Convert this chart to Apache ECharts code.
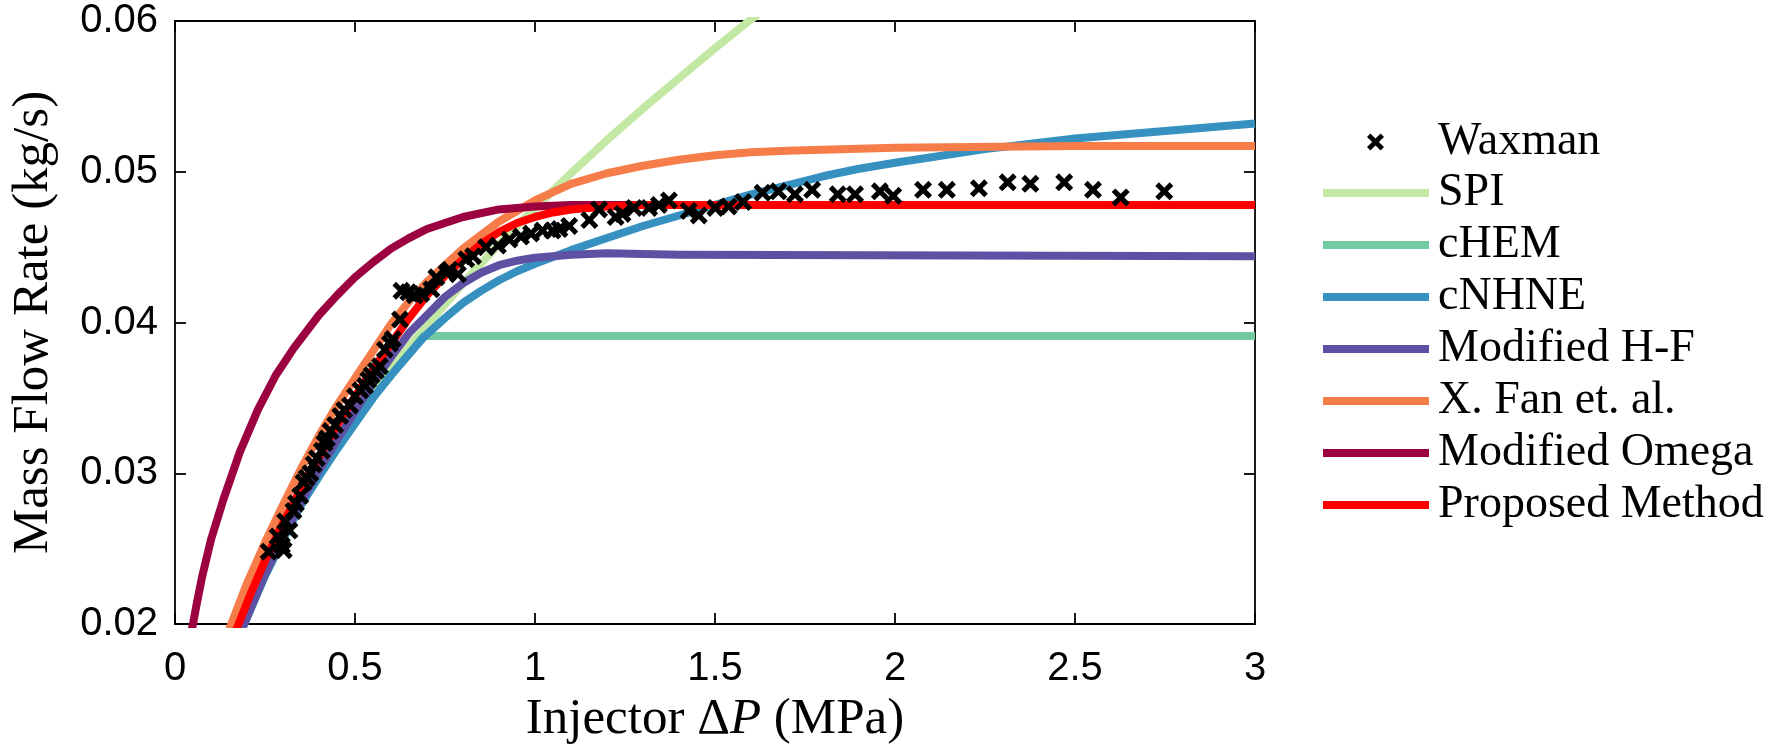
<!DOCTYPE html>
<html>
<head>
<meta charset="utf-8">
<script src="https://cdn.jsdelivr.net/npm/echarts@6/dist/echarts.min.js"></script>
<style>
  html, body { margin: 0; padding: 0; background: #ffffff; }
  #chart { width: 1787px; height: 750px; }
</style>
</head>
<body>
<div id="chart"></div>
<script>
// Axis ticks
const xTicks = [0, 0.5, 1, 1.5, 2, 2.5, 3];
const yTicks = [0.02, 0.03, 0.04, 0.05, 0.06];

// Measured data: [injector dP (MPa), mass flow rate (kg/s)]
const waxman = [
  [0.260, 0.0248], [0.285, 0.0258], [0.297, 0.0252], [0.302, 0.0249], [0.306, 0.0268],
  [0.318, 0.0262], [0.329, 0.0275], [0.336, 0.0280], [0.348, 0.0285], [0.357, 0.0294],
  [0.366, 0.0297], [0.376, 0.0300], [0.385, 0.0306], [0.394, 0.0310], [0.408, 0.0315],
  [0.415, 0.0320], [0.422, 0.0323], [0.432, 0.0328], [0.445, 0.0332], [0.459, 0.0338],
  [0.470, 0.0342], [0.486, 0.0345], [0.500, 0.0351], [0.515, 0.0355], [0.528, 0.0358],
  [0.537, 0.0362], [0.546, 0.0365], [0.558, 0.0368], [0.569, 0.0371], [0.583, 0.0382],
  [0.597, 0.0386], [0.605, 0.0389], [0.625, 0.0402], [0.629, 0.0421], [0.648, 0.0420],
  [0.666, 0.0418], [0.684, 0.0419], [0.712, 0.0422], [0.726, 0.0430], [0.754, 0.0433],
  [0.763, 0.0435], [0.786, 0.0432], [0.809, 0.0442], [0.828, 0.0444], [0.864, 0.0450],
  [0.897, 0.0451], [0.929, 0.0455], [0.961, 0.0457], [0.989, 0.0459], [1.021, 0.0461],
  [1.049, 0.0461], [1.068, 0.0462], [1.095, 0.0464], [1.151, 0.0468], [1.178, 0.0475],
  [1.224, 0.0470], [1.243, 0.0472], [1.275, 0.0476], [1.317, 0.0476], [1.344, 0.0478],
  [1.372, 0.0481], [1.427, 0.0474], [1.455, 0.0471], [1.501, 0.0476], [1.538, 0.0477],
  [1.578, 0.0480], [1.632, 0.0486], [1.676, 0.0487], [1.722, 0.0485], [1.770, 0.0488],
  [1.841, 0.0485], [1.889, 0.0485], [1.958, 0.0487], [1.995, 0.0484], [2.078, 0.0488],
  [2.144, 0.0488], [2.233, 0.0489], [2.313, 0.0493], [2.376, 0.0492], [2.470, 0.0493],
  [2.550, 0.0488], [2.627, 0.0483], [2.748, 0.0487]
];

// Model predictions
const spi = [
  [0.17, 0.0196], [0.20, 0.0213], [0.25, 0.0238], [0.30, 0.0261], [0.35, 0.0282],
  [0.40, 0.0302], [0.45, 0.0320], [0.50, 0.0337], [0.55, 0.0353], [0.60, 0.0369],
  [0.65, 0.0384], [0.70, 0.0398], [0.80, 0.0426], [0.90, 0.0452], [1.00, 0.0476],
  [1.10, 0.0499], [1.20, 0.0521], [1.30, 0.0542], [1.40, 0.0562], [1.50, 0.0582],
  [1.60, 0.0601], [1.65, 0.0610]
];
const chem = [
  [0.185, 0.0196], [0.25, 0.0232], [0.30, 0.0256], [0.35, 0.0279], [0.40, 0.0298],
  [0.45, 0.0316], [0.50, 0.0333], [0.55, 0.0350], [0.60, 0.0365], [0.65, 0.0379],
  [0.69, 0.0391], [3.00, 0.0391]
];
const cnhne = [
  [0.185, 0.0196], [0.25, 0.0232], [0.30, 0.0256], [0.35, 0.0279], [0.40, 0.0298],
  [0.45, 0.0316], [0.50, 0.0333], [0.55, 0.0350], [0.60, 0.0365], [0.65, 0.0379],
  [0.69, 0.0390], [0.75, 0.0403], [0.80, 0.0413], [0.85, 0.0421], [0.90, 0.0428],
  [0.95, 0.0434], [1.00, 0.0439], [1.10, 0.0448], [1.20, 0.0456], [1.30, 0.0464],
  [1.40, 0.0471], [1.50, 0.0478], [1.60, 0.0485], [1.70, 0.0491], [1.80, 0.0497],
  [1.90, 0.0502], [2.00, 0.0506], [2.25, 0.0515], [2.50, 0.0522], [2.75, 0.0527],
  [3.00, 0.0532]
];
const modHF = [
  [0.185, 0.0196], [0.25, 0.0233], [0.30, 0.0258], [0.35, 0.0281], [0.40, 0.0302],
  [0.45, 0.0322], [0.50, 0.0341], [0.55, 0.0360], [0.60, 0.0377], [0.65, 0.0393],
  [0.70, 0.0405], [0.75, 0.0417], [0.80, 0.0426], [0.85, 0.0433], [0.90, 0.0438],
  [0.95, 0.0441], [1.00, 0.0443], [1.10, 0.0445], [1.20, 0.0446], [1.40, 0.0445],
  [3.00, 0.0444]
];
const xFan = [
  [0.15, 0.0196], [0.20, 0.0227], [0.25, 0.0254], [0.30, 0.0279], [0.35, 0.0303],
  [0.40, 0.0325], [0.45, 0.0345], [0.50, 0.0363], [0.55, 0.0381], [0.60, 0.0399],
  [0.65, 0.0414], [0.70, 0.0427], [0.75, 0.0438], [0.80, 0.0449], [0.85, 0.0458],
  [0.90, 0.0467], [0.95, 0.0474], [1.00, 0.0481], [1.10, 0.0492], [1.20, 0.0499],
  [1.30, 0.0504], [1.40, 0.0508], [1.50, 0.0511], [1.60, 0.0513], [1.70, 0.0514],
  [1.85, 0.0515], [2.00, 0.0516], [2.50, 0.0517], [3.00, 0.0517]
];
const modOmega = [
  [0.045, 0.0195], [0.05, 0.0200], [0.06, 0.0213], [0.075, 0.0231], [0.10, 0.0256],
  [0.135, 0.0283], [0.18, 0.0314], [0.23, 0.0342], [0.28, 0.0365], [0.33, 0.0383],
  [0.40, 0.0405], [0.45, 0.0418], [0.50, 0.0430], [0.55, 0.0440], [0.60, 0.0449],
  [0.65, 0.0456], [0.70, 0.0462], [0.75, 0.0466], [0.80, 0.0470], [0.90, 0.0475],
  [1.00, 0.0477], [1.10, 0.0478], [3.00, 0.0478]
];
const proposed = [
  [0.17, 0.0196], [0.21, 0.0220], [0.25, 0.0242], [0.30, 0.0267], [0.35, 0.0290],
  [0.40, 0.0311], [0.45, 0.0332], [0.50, 0.0351], [0.55, 0.0369], [0.60, 0.0386],
  [0.65, 0.0403], [0.70, 0.0418], [0.75, 0.0431], [0.80, 0.0442], [0.85, 0.0452],
  [0.90, 0.0460], [0.95, 0.0466], [1.00, 0.0470], [1.05, 0.0473], [1.10, 0.0475],
  [1.20, 0.0477], [1.30, 0.0478], [3.00, 0.0478]
];

const lineNames = ['SPI', 'cHEM', 'cNHNE', 'Modified H-F', 'X. Fan et. al.', 'Modified Omega', 'Proposed Method'];
const lineData = [spi, chem, cnhne, modHF, xFan, modOmega, proposed];
const lineColors = ['#c3e8a3', '#72caa3', '#3690c0', '#5e50a2', '#f67d4a', '#9c0140', '#ff0000'];

// Bold "x" marker
const CROSS = 'path://M0,2 L2,0 L5,3 L8,0 L10,2 L7,5 L10,8 L8,10 L5,7 L2,10 L0,8 L3,5 Z';
const SERIF = '"Liberation Serif", "Times New Roman", serif';
const SANS = '"Liberation Sans", Arial, sans-serif';

const frameLine = { show: true, onZero: false, lineStyle: { color: '#000', width: 1.8 } };
const frameTick = { show: true, inside: true, length: 11, lineStyle: { color: '#000', width: 1.8 } };

const chart = echarts.init(document.getElementById('chart'), null, { renderer: 'canvas' });

const series = lineNames.map((name, i) => ({
  name: name,
  type: 'line',
  data: lineData[i],
  showSymbol: false,
  symbol: 'none',
  smooth: false,
  clip: true,
  color: lineColors[i],
  itemStyle: { color: lineColors[i] },
  lineStyle: { color: lineColors[i], width: 8, cap: 'butt', join: 'round' },
  emphasis: { disabled: true },
  z: 2
}));
series.push({
  name: 'Waxman',
  type: 'scatter',
  data: waxman,
  symbol: CROSS,
  symbolSize: 18,
  clip: true,
  itemStyle: { color: '#000', opacity: 1 },
  emphasis: { disabled: true },
  z: 3
});

chart.setOption({
  animation: false,
  backgroundColor: '#ffffff',
  grid: { left: 171, right: 532, top: 21, bottom: 124, containLabel: false },
  xAxis: [
    {
      type: 'value', min: 0, max: 3, interval: 0.5, position: 'bottom',
      axisLine: frameLine, axisTick: frameTick, splitLine: { show: false },
      axisLabel: {
        color: '#000', fontFamily: SANS, fontSize: 40, margin: 25,
        formatter: v => (xTicks.indexOf(v) >= 0 ? String(v) : '')
      },
      name: '{n|Injector Δ}{i|P}{n| (MPa)}',
      nameLocation: 'middle', nameGap: 70,
      nameTextStyle: {
        rich: {
          n: { fontFamily: SERIF, fontSize: 51, color: '#000' },
          i: { fontFamily: SERIF, fontSize: 51, color: '#000', fontStyle: 'italic' }
        }
      }
    },
    {
      type: 'value', min: 0, max: 3, interval: 0.5, position: 'top',
      axisLine: frameLine, axisTick: frameTick, splitLine: { show: false },
      axisLabel: { show: false }
    }
  ],
  yAxis: [
    {
      type: 'value', min: 0.02, max: 0.06, interval: 0.01, position: 'left',
      axisLine: frameLine, axisTick: frameTick, splitLine: { show: false },
      axisLabel: {
        color: '#000', fontFamily: SANS, fontSize: 40, margin: 17,
        formatter: v => {
          const t = yTicks.find(k => Math.abs(k - v) < 1e-9);
          return t === undefined ? '' : t.toFixed(2);
        }
      },
      name: 'Mass Flow Rate (kg/s)',
      nameLocation: 'middle', nameGap: 116, nameRotate: 90,
      nameTextStyle: { fontFamily: SERIF, fontSize: 51, color: '#000' }
    },
    {
      type: 'value', min: 0.02, max: 0.06, interval: 0.01, position: 'right',
      axisLine: frameLine, axisTick: frameTick, splitLine: { show: false },
      axisLabel: { show: false }
    }
  ],
  legend: [
    {
      data: [{ name: 'Waxman', icon: CROSS }],
      orient: 'vertical', left: 1367, top: 119, padding: 0,
      itemWidth: 17, itemHeight: 17, selectedMode: false,
      textStyle: { fontFamily: SERIF, fontSize: 46, lineHeight: 46, color: '#000', padding: [0, 0, 0, 49] }
    },
    {
      data: lineNames.map(n => ({ name: n, icon: 'rect' })),
      orient: 'vertical', left: 1323, top: 170, padding: 0,
      itemWidth: 106, itemHeight: 8, itemGap: 6, selectedMode: false,
      textStyle: { fontFamily: SERIF, fontSize: 46, lineHeight: 46, color: '#000', padding: [0, 0, 0, 4] }
    }
  ],
  series: series
});
</script>
</body>
</html>
